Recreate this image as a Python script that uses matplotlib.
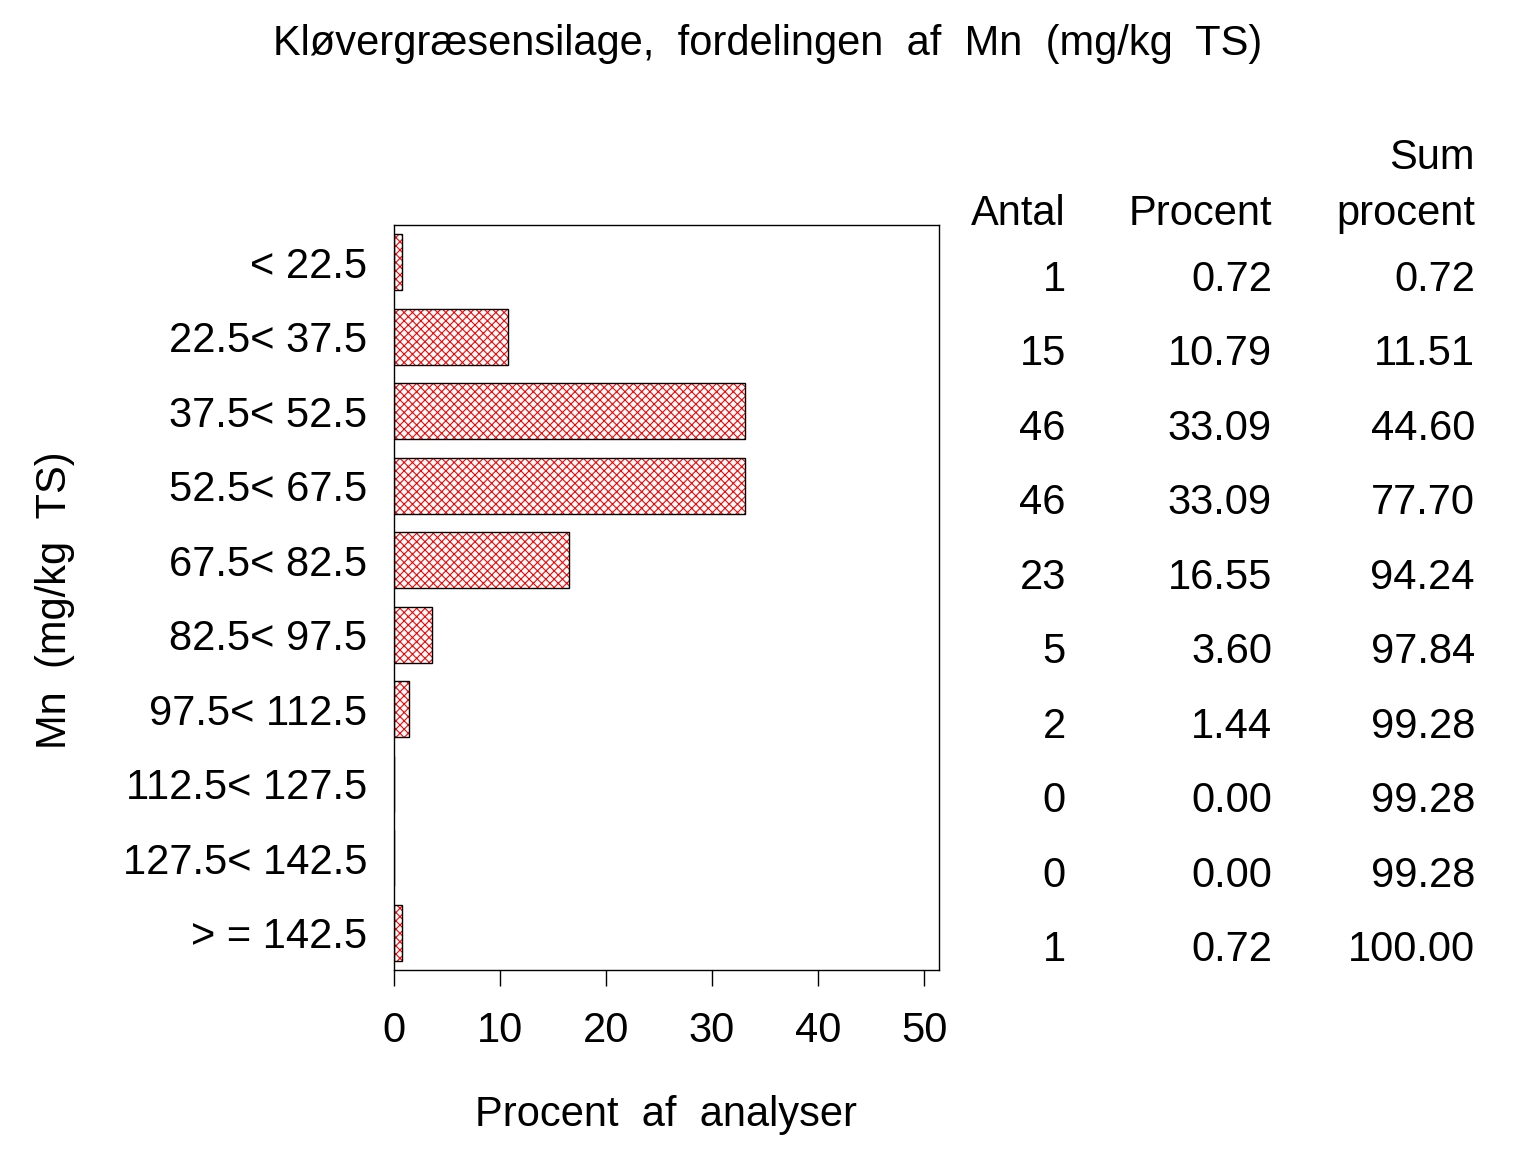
import matplotlib
matplotlib.use('Agg')
import matplotlib.pyplot as plt
from matplotlib.transforms import blended_transform_factory

plt.rcParams['font.family'] = ['Liberation Sans', 'DejaVu Sans']
plt.rcParams['hatch.linewidth'] = 0.8

categories = ['< 22.5', '22.5< 37.5', '37.5< 52.5', '52.5< 67.5', '67.5< 82.5',
              '82.5< 97.5', '97.5< 112.5', '112.5< 127.5', '127.5< 142.5', '> = 142.5']
antal = [1, 15, 46, 46, 23, 5, 2, 0, 0, 1]
procent = [0.72, 10.79, 33.09, 33.09, 16.55, 3.60, 1.44, 0.00, 0.00, 0.72]
sum_procent = [0.72, 11.51, 44.60, 77.70, 94.24, 97.84, 99.28, 99.28, 99.28, 100.00]
xticks = [0, 10, 20, 30, 40, 50]

fs = 30
fig = plt.figure(figsize=(15.36, 11.52), dpi=100)
ax = fig.add_axes([0.2565, 0.158, 0.3548, 0.6467])

pos = list(range(len(categories)))
# red cross hatch, then black outline on top
ax.barh(pos, procent, height=0.75, color='white', edgecolor='red',
        linewidth=0, hatch='xxxx')
ax.barh(pos, procent, height=0.75, fill=False, edgecolor='black', linewidth=1.0)
ax.set_ylim(len(categories) - 0.5, -0.5)
ax.set_xlim(0, 51.4)
ax.set_yticks(pos)
ax.set_yticklabels(categories, fontsize=fs)
ax.set_xticks(xticks)
ax.set_xticklabels([str(t) for t in xticks], fontsize=fs)
ax.tick_params(axis='y', length=0, pad=19)
ax.tick_params(axis='x', length=11.5, width=1.0, pad=18, direction='out')
for s in ax.spines.values():
    s.set_linewidth(1.0)

ax.set_xlabel('Procent  af  analyser', fontsize=fs, labelpad=32)
fig.text(0.036, 1 - 600 / 1152, 'Mn  (mg/kg  TS)', fontsize=fs, rotation=90,
         ha='center', va='center')
fig.text(0.5, 0.952, 'Kløvergræsensilage,  fordelingen  af  Mn  (mg/kg  TS)',
         fontsize=fs, ha='center', va='baseline')

# table at right
col_x = [1066 / 1536, 1272 / 1536, 1475 / 1536]
tr = blended_transform_factory(fig.transFigure, ax.transData)
for i in pos:
    y = i + 0.38
    ax.text(col_x[0], y, str(antal[i]), transform=tr, ha='right', va='baseline', fontsize=fs)
    ax.text(col_x[1], y, f'{procent[i]:.2f}', transform=tr, ha='right', va='baseline', fontsize=fs)
    ax.text(col_x[2], y, f'{sum_procent[i]:.2f}', transform=tr, ha='right', va='baseline', fontsize=fs)

hy = 1 - 225 / 1152
fig.text(col_x[0], hy, 'Antal', ha='right', va='baseline', fontsize=fs)
fig.text(col_x[1], hy, 'Procent', ha='right', va='baseline', fontsize=fs)
fig.text(col_x[2], hy, 'procent', ha='right', va='baseline', fontsize=fs)
fig.text(col_x[2], 1 - 169 / 1152, 'Sum', ha='right', va='baseline', fontsize=fs)

fig.savefig('out.png', dpi=100)
